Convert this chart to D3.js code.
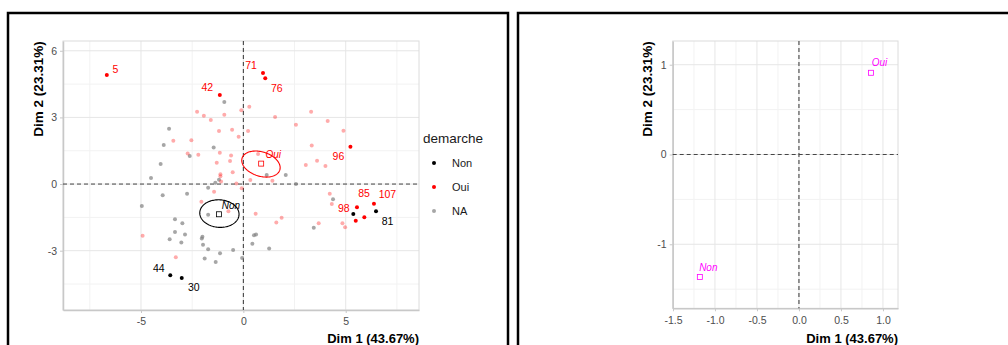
<!DOCTYPE html>
<html>
<head>
<meta charset="utf-8">
<script src="https://cdn.jsdelivr.net/npm/d3@7"></script>
<style>
  body { margin: 0; background: #fff; }
  svg { display: block; font-family: "Liberation Sans", Arial, sans-serif; }
</style>
</head>
<body>
<svg width="1008" height="345"></svg>
<script>
// ---- data ----
const groups = ["Non", "Oui", "NA"];

// individuals with a label (selected), full colour
const ouiLabelled = [
  {name: "5",   x: -6.67, y: 4.91},
  {name: "42",  x: -1.15, y: 4.01},
  {name: "71",  x: 0.96,  y: 5.00},
  {name: "76",  x: 1.07,  y: 4.76},
  {name: "96",  x: 5.23,  y: 1.68},
  {name: "85",  x: 5.55,  y: -1.04},
  {name: "107", x: 6.38,  y: -0.89},
  {name: "98",  x: 5.49,  y: -1.65},
  {name: "",    x: 5.91,  y: -1.49}
];
const nonLabelled = [
  {name: "81", x: 6.48,  y: -1.22},
  {name: "44", x: -3.57, y: -4.10},
  {name: "30", x: -3.01, y: -4.23},
  {name: "",   x: 5.37,  y: -1.35}
];

// remaining individuals, faded
const ouiOthers = [
  [-2.26, 3.26], [-1.93, 3.08], [-1.59, 2.88], [-0.93, 3.12], [-0.10, 3.32],
  [-1.19, 2.39], [-0.55, 2.45], [-0.23, 2.13], [-3.42, 1.95], [-2.54, 1.97],
  [-1.15, 1.41], [-2.72, 1.37], [-2.20, 1.32], [-0.60, 1.28], [-1.30, 0.96],
  [-0.65, 1.04], [-1.12, 0.44], [-0.52, 0.53], [0.29, 3.48], [3.31, 3.26],
  [1.55, 3.02], [4.12, 2.84], [2.57, 2.67], [0.23, 2.39], [4.89, 2.40],
  [3.34, 1.74], [0.72, 1.35], [3.60, 1.05], [3.05, 0.86], [4.01, 0.81],
  [-1.43, -0.35], [-1.12, 0.35], [-1.09, 0.12], [-0.34, 0.03], [-0.08, -0.19],
  [-2.05, -0.80], [-0.73, -1.22], [-4.92, -2.33], [-3.30, -3.30], [0.34, 0.18],
  [1.42, 0.15], [0.60, -1.34], [1.61, -1.73], [1.87, -1.52], [4.22, -0.44],
  [4.32, -0.90], [3.68, -1.77], [4.84, -1.77], [4.97, -1.95]
];
const naPoints = [
  [-0.93, 3.69], [-3.63, 2.49], [-3.89, 1.76], [-1.45, 1.64], [-2.62, 1.26],
  [-4.04, 0.90], [1.14, 0.41], [2.07, 0.41], [-4.51, 0.27], [-3.94, -0.50],
  [-2.75, -0.44], [-4.96, -0.99], [-1.72, -0.17], [-1.37, 0.06], [-1.19, 0.19],
  [-1.72, -1.38], [-3.34, -1.58], [-2.98, -1.76], [-3.34, -2.16], [-2.85, -2.27],
  [-3.60, -2.48], [-3.03, -2.63], [-2.00, -2.37], [-2.03, -2.45], [-1.97, -2.73],
  [-1.72, -2.93], [-0.50, -2.97], [-1.14, -3.12], [-1.89, -3.35], [-1.35, -3.51],
  [-0.06, -3.33], [2.57, 0.00], [0.52, -2.30], [0.62, -2.27], [0.44, -2.69],
  [1.26, -2.90], [4.38, -0.68], [3.44, -1.97]
];

// group barycentres and confidence ellipses (centre, semi-axes, tilt deg)
const means = [
  {name: "Oui", x: 0.87,  y: 0.92},
  {name: "Non", x: -1.19, y: -1.36}
];
const ellipses = [
  {name: "Oui", cx: 0.86,  cy: 0.90,  a: 0.96, b: 0.55, angle: -15},
  {name: "Non", cx: -1.17, cy: -1.33, a: 0.96, b: 0.62, angle: -3}
];

// variable categories (right panel)
const categories = [
  {name: "Non", x: -1.18, y: -1.365},
  {name: "Oui", x: 0.857, y: 0.91}
];

const xTicksL = [-5, 0, 5], xMinorL = [-7.5, -2.5, 2.5, 7.5];
const yTicksL = [-3, 0, 3, 6], yMinorL = [-4.5, -1.5, 1.5, 4.5];
const xTicksR = [-1.5, -1, -0.5, 0, 0.5, 1], xMinorR = [-1.25, -0.75, -0.25, 0.25, 0.75];
const yTicksR = [-1, 0, 1], yMinorR = [-1.5, -0.5, 0.5];

const xTitle = "Dim 1 (43.67%)", yTitle = "Dim 2 (23.31%)";

// label nudges (px) like ggrepel put them
const nudge = {
  "5": [8.5, -6], "42": [-12.5, -8], "71": [-12, -8], "76": [11.5, 10],
  "96": [-12, 10], "85": [7, -14], "107": [13.5, -9.5], "98": [-12, -12.5],
  "81": [11.5, 10], "44": [-11.5, -7], "30": [12, 9.5]
};

const colors = {Non: "#000000", Oui: "#ff0000", NA: "#808080"};

// hyphen minus like R prints it
const loc = d3.formatLocale({decimal: ".", thousands: ",", grouping: [3], currency: ["", ""], minus: "-"});

const svg = d3.select("svg");

// panel frames
svg.append("rect").attr("x", 8).attr("y", 13).attr("width", 500).attr("height", 360)
  .attr("fill", "none").attr("stroke", "#000").attr("stroke-width", 2.5);
svg.append("rect").attr("x", 518).attr("y", 13).attr("width", 520).attr("height", 360)
  .attr("fill", "none").attr("stroke", "#000").attr("stroke-width", 2.5);

function makePanel(opts) {
  const x = d3.scaleLinear().domain(opts.xDomain).range([opts.left, opts.right]);
  const y = d3.scaleLinear().domain(opts.yDomain).range([opts.bottom, opts.top]);
  const g = svg.append("g");

  // grid
  g.selectAll(".mx").data(opts.xMinor).join("line")
    .attr("x1", d => x(d)).attr("x2", d => x(d)).attr("y1", opts.top).attr("y2", opts.bottom)
    .attr("stroke", "#f2f2f2").attr("stroke-width", 1);
  g.selectAll(".my").data(opts.yMinor).join("line")
    .attr("y1", d => y(d)).attr("y2", d => y(d)).attr("x1", opts.left).attr("x2", opts.right)
    .attr("stroke", "#f2f2f2").attr("stroke-width", 1);
  g.selectAll(".gx").data(opts.xTicks).join("line")
    .attr("x1", d => x(d)).attr("x2", d => x(d)).attr("y1", opts.top).attr("y2", opts.bottom)
    .attr("stroke", "#e6e6e6").attr("stroke-width", 1);
  g.selectAll(".gy").data(opts.yTicks).join("line")
    .attr("y1", d => y(d)).attr("y2", d => y(d)).attr("x1", opts.left).attr("x2", opts.right)
    .attr("stroke", "#e6e6e6").attr("stroke-width", 1);

  // panel border
  g.append("rect").attr("x", opts.left).attr("y", opts.top)
    .attr("width", opts.right - opts.left).attr("height", opts.bottom - opts.top)
    .attr("fill", "none").attr("stroke", "#dcdcdc").attr("stroke-width", 1);

  // axes
  const xAxis = g.append("g").attr("transform", "translate(0," + opts.bottom + ")")
    .call(d3.axisBottom(x).tickValues(opts.xTicks).tickFormat(opts.xFormat).tickSize(3).tickSizeOuter(0));
  const yAxis = g.append("g").attr("transform", "translate(" + opts.left + ",0)")
    .call(d3.axisLeft(y).tickValues(opts.yTicks).tickFormat(opts.yFormat).tickSize(3).tickSizeOuter(0));
  [xAxis, yAxis].forEach(a => {
    a.select(".domain").attr("stroke", "#c8c8c8").attr("stroke-width", 1.5);
    a.selectAll(".tick line").attr("stroke", "#c8c8c8");
    a.selectAll(".tick text").attr("fill", "#4d4d4d")
      .style("font-size", "10.5px").style("font-family", "Liberation Sans, Arial, sans-serif");
  });
  xAxis.selectAll(".tick text").attr("dy", "0.9em");

  // reference lines
  g.append("line").attr("x1", x(0)).attr("x2", x(0)).attr("y1", opts.top).attr("y2", opts.bottom)
    .attr("stroke", "#333").attr("stroke-width", 1).attr("stroke-dasharray", "4,3");
  g.append("line").attr("y1", y(0)).attr("y2", y(0)).attr("x1", opts.left).attr("x2", opts.right)
    .attr("stroke", "#444").attr("stroke-width", 1).attr("stroke-dasharray", "4,3");

  // titles
  g.append("text").attr("x", opts.right).attr("y", 343).attr("text-anchor", "end")
    .style("font-size", "13px").style("font-weight", "bold").text(xTitle);
  g.append("text").attr("transform", "translate(" + (opts.yTitleX) + ",89) rotate(-90)")
    .attr("text-anchor", "middle").attr("dy", "0.35em")
    .style("font-size", "13.5px").style("font-weight", "bold").text(yTitle);

  return {g, x, y};
}

// ---------- left panel: individuals ----------
const L = makePanel({
  left: 63, right: 419, top: 41, bottom: 310,
  xDomain: [-8.81, 8.58], yDomain: [-5.67, 6.44],
  xTicks: xTicksL, xMinor: xMinorL, yTicks: yTicksL, yMinor: yMinorL,
  xFormat: loc.format("d"), yFormat: loc.format("d"), yTitleX: 38
});

L.g.selectAll(".na").data(naPoints).join("circle")
  .attr("cx", d => L.x(d[0])).attr("cy", d => L.y(d[1])).attr("r", 2)
  .attr("fill", colors.NA).attr("fill-opacity", 0.7);
L.g.selectAll(".ouiO").data(ouiOthers).join("circle")
  .attr("cx", d => L.x(d[0])).attr("cy", d => L.y(d[1])).attr("r", 2)
  .attr("fill", colors.Oui).attr("fill-opacity", 0.33);

const ell = d3.line().curve(d3.curveLinearClosed);
L.g.selectAll(".ell").data(ellipses).join("path")
  .attr("d", e => {
    const phi = e.angle * Math.PI / 180;
    const pts = d3.range(0, 2 * Math.PI, Math.PI / 60).map(t => {
      const dx = e.a * Math.cos(t) * Math.cos(phi) - e.b * Math.sin(t) * Math.sin(phi);
      const dy = e.a * Math.cos(t) * Math.sin(phi) + e.b * Math.sin(t) * Math.cos(phi);
      return [L.x(e.cx + dx), L.y(e.cy + dy)];
    });
    return ell(pts);
  })
  .attr("fill", "none").attr("stroke", e => colors[e.name]).attr("stroke-width", 1.1);

L.g.selectAll(".mean").data(means).join("rect")
  .attr("x", d => L.x(d.x) - 2.5).attr("y", d => L.y(d.y) - 2.5)
  .attr("width", 5).attr("height", 5)
  .attr("fill", "none").attr("stroke", d => colors[d.name]).attr("stroke-width", 0.8);
L.g.selectAll(".meanLab").data(means).join("text")
  .attr("x", d => L.x(d.x) + 12).attr("y", d => L.y(d.y) - 9).attr("dy", "0.35em")
  .attr("text-anchor", "middle").style("font-size", "10px").style("font-style", "italic")
  .attr("fill", d => colors[d.name]).text(d => d.name);

const selected = ouiLabelled.map(d => ({...d, grp: "Oui"}))
  .concat(nonLabelled.map(d => ({...d, grp: "Non"})));
L.g.selectAll(".sel").data(selected).join("circle")
  .attr("cx", d => L.x(d.x)).attr("cy", d => L.y(d.y)).attr("r", 2)
  .attr("fill", d => colors[d.grp]);
L.g.selectAll(".selLab").data(selected.filter(d => d.name)).join("text")
  .attr("x", d => L.x(d.x) + nudge[d.name][0]).attr("y", d => L.y(d.y) + nudge[d.name][1])
  .attr("dy", "0.35em").attr("text-anchor", "middle")
  .style("font-size", "10.5px").attr("fill", d => colors[d.grp]).text(d => d.name);

// legend
const leg = svg.append("g").attr("transform", "translate(423,0)");
leg.append("text").attr("x", 0).attr("y", 138).attr("dy", "0.35em")
  .style("font-size", "13.5px").attr("fill", "#1a1a1a").text("demarche");
const legY = d3.scalePoint().domain(groups).range([163, 211]);
leg.selectAll(".lk").data(groups).join("circle")
  .attr("cx", 11).attr("cy", d => legY(d)).attr("r", 2).attr("fill", d => colors[d])
  .attr("fill-opacity", d => d === "NA" ? 0.7 : 1);
leg.selectAll(".lt").data(groups).join("text")
  .attr("x", 29).attr("y", d => legY(d)).attr("dy", "0.35em")
  .style("font-size", "11px").attr("fill", "#1a1a1a").text(d => d);

// ---------- right panel: categories ----------
const R = makePanel({
  left: 672.7, right: 898, top: 41, bottom: 308.3,
  xDomain: [-1.503, 1.179], yDomain: [-1.713, 1.264],
  xTicks: xTicksR, xMinor: xMinorR, yTicks: yTicksR, yMinor: yMinorR,
  xFormat: loc.format(".1f"), yFormat: loc.format("d"), yTitleX: 647
});

R.g.selectAll(".cat").data(categories).join("rect")
  .attr("x", d => R.x(d.x) - 2.5).attr("y", d => R.y(d.y) - 2.5)
  .attr("width", 5).attr("height", 5)
  .attr("fill", "none").attr("stroke", "#ff00ff").attr("stroke-width", 0.8);
R.g.selectAll(".catLab").data(categories).join("text")
  .attr("x", d => R.x(d.x) + 8.5).attr("y", d => R.y(d.y) - 10).attr("dy", "0.35em")
  .attr("text-anchor", "middle").style("font-size", "10px").style("font-style", "italic")
  .attr("fill", "#ff00ff").text(d => d.name);
</script>
</body>
</html>
